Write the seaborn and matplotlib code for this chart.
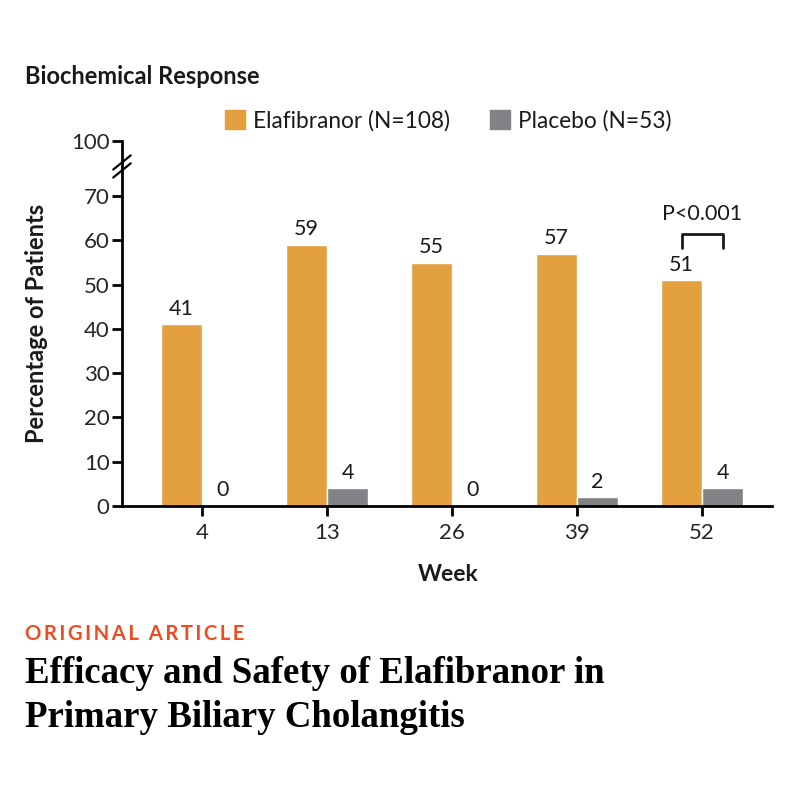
import pandas as pd
import matplotlib
matplotlib.use('Agg')
import matplotlib.pyplot as plt
from matplotlib.lines import Line2D
from matplotlib.patches import Patch
import seaborn as sns

# data
weeks = ['4', '13', '26', '39', '52']
elafibranor = [41, 59, 55, 57, 51]
placebo = [0, 4, 0, 2, 4]
groups = ['Elafibranor (N=108)', 'Placebo (N=53)']
colors = ['#E3A03F', '#808285']

# 100 sits above the axis break, drawn at this position on the 0-70 scale
break_top = 82.4

df = pd.DataFrame({
    'Week': weeks * 2,
    'value': elafibranor + placebo,
    'group': [groups[0]] * len(weeks) + [groups[1]] * len(weeks),
})

sns.set_theme(style='white')
plt.rcParams['font.family'] = ['Lato', 'DejaVu Sans']
plt.rcParams['text.color'] = '#1a1a1a'

fig = plt.figure(figsize=(8, 8), dpi=100)
ax = fig.add_axes([0.1525, 0.3675, 0.8125, 0.456])

sns.barplot(data=df, x='Week', y='value', hue='group', palette=colors,
            width=0.656, gap=0, saturation=1, legend=False, ax=ax)

for cont in ax.containers:
    ax.bar_label(cont, labels=[str(int(b.get_height())) for b in cont],
                 padding=4, fontsize=15.5)

ax.set_xlim(-0.64, 4.56)
ax.set_ylim(0, break_top)
ax.set_yticks([0, 10, 20, 30, 40, 50, 60, 70, break_top])
ax.set_yticklabels(['0', '10', '20', '30', '40', '50', '60', '70', '100'])
ax.tick_params(axis='both', direction='out', length=7, width=2, color='black',
               labelsize=16, left=True, bottom=True, pad=2)
ax.tick_params(axis='x', pad=5)
for side in ['top', 'right']:
    ax.spines[side].set_visible(False)
for side in ['left', 'bottom']:
    ax.spines[side].set_linewidth(2)
    ax.spines[side].set_color('black')
ax.set_xlabel('')
ax.set_ylabel('')

# axis break marks
for yy in [75.8, 77.6]:
    ax.add_line(Line2D([-0.71, -0.57], [yy - 1.6, yy + 1.6], color='black',
                       lw=1.6, clip_on=False))

# p-value bracket over week 52
ax.plot([3.836, 3.836, 4.164, 4.164], [58.2, 61.4, 61.4, 58.2],
        color='#1a1a1a', lw=2, clip_on=False)
ax.text(4.0, 63.6, 'P<0.001', ha='center', va='bottom', fontsize=15.5)

# legend
handles = [Patch(facecolor=c, edgecolor=c) for c in colors]
fig.legend(handles, groups, loc='center left', bbox_to_anchor=(0.281, 0.849),
           ncol=2, frameon=False, fontsize=16.3, handlelength=0.9,
           handleheight=0.9, handletextpad=0.36, columnspacing=1.75,
           borderaxespad=0, borderpad=0)

fig.text(0.031, 0.904, 'Biochemical Response', fontsize=17, fontweight='bold',
         ha='left', va='center')
fig.text(0.046, 0.596, 'Percentage of Patients', fontsize=17,
         fontweight='bold', rotation=90, ha='center', va='center')
fig.text(0.56, 0.282, 'Week', fontsize=16.5, fontweight='bold',
         ha='center', va='center')

fig.text(0.031, 0.2, '\u2009'.join('ORIGINAL ARTICLE'), fontsize=14.6,
         fontweight='bold', color='#EE4B1F', ha='left', va='baseline')
serif = ['Liberation Serif', 'DejaVu Serif']
fig.text(0.031, 0.14625, 'Efficacy and Safety of Elafibranor in', fontsize=26.6,
         fontweight='bold', family=serif, color='black', ha='left', va='baseline')
fig.text(0.031, 0.09125, 'Primary Biliary Cholangitis', fontsize=26.6,
         fontweight='bold', family=serif, color='black', ha='left', va='baseline')

fig.savefig('out.png', dpi=100, facecolor='white')
